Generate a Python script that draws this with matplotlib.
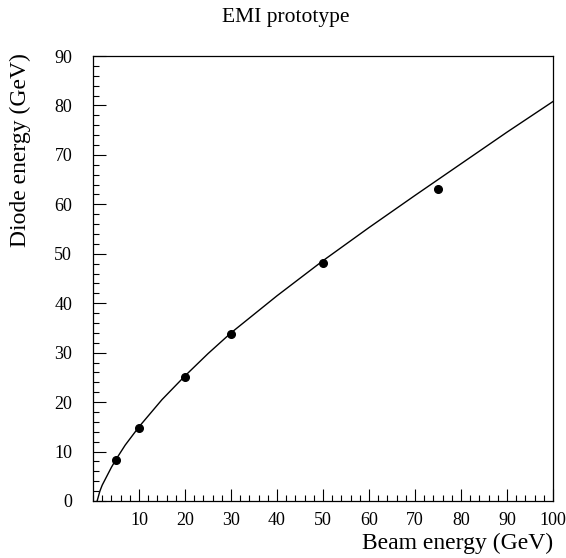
import matplotlib
matplotlib.use('Agg')
import matplotlib.pyplot as plt
from matplotlib.ticker import MultipleLocator

# measured points
beam_energy = [5, 10, 20, 30, 50, 75]
diode_energy = [8.3, 14.8, 25.0, 33.8, 48.2, 63.2]

# fitted curve
curve_x = [0.9, 1.5, 2, 3, 4, 5, 7, 10, 15, 20, 25, 30, 40, 50, 60, 70, 80, 90, 100]
curve_y = [0.0, 2.0, 3.2, 5.0, 6.8, 8.4, 11.3, 15.0, 20.5, 25.3, 29.8, 34.0,
           41.5, 48.6, 55.3, 61.8, 68.2, 74.6, 80.8]

x_ticks = [10, 20, 30, 40, 50, 60, 70, 80, 90, 100]
y_ticks = [0, 10, 20, 30, 40, 50, 60, 70, 80, 90]

plt.rcParams['font.family'] = ['Liberation Serif', 'DejaVu Serif']

fig = plt.figure(figsize=(5.66, 5.58), dpi=100)
ax = fig.add_axes([0.1643, 0.1022, 0.977 - 0.1643, 0.8996 - 0.1022])

ax.plot(curve_x, curve_y, color='black', linewidth=1.0)
ax.plot(beam_energy, diode_energy, 'o', color='black', markersize=5.5)

ax.set_xlim(0, 100)
ax.set_ylim(0, 90)
ax.set_xticks(x_ticks)
ax.set_yticks(y_ticks)
ax.xaxis.set_minor_locator(MultipleLocator(2))
ax.yaxis.set_minor_locator(MultipleLocator(2))
ax.tick_params(which='both', direction='in', top=False, right=False,
               labelsize=13, width=0.8, colors='black')
ax.tick_params(which='major', length=9)
ax.tick_params(which='minor', length=4.5)
ax.tick_params(axis='x', pad=8)
ax.tick_params(axis='y', pad=15)
for s in ax.spines.values():
    s.set_linewidth(0.9)

fig.text(0.504, 0.968, 'EMI prototype', ha='center', va='center', fontsize=15.5)
fig.text(0.977, 0.027, 'Beam energy (GeV)', ha='right', va='center', fontsize=17)
fig.text(0.036, 0.905, 'Diode energy (GeV)', ha='center', va='top',
         rotation=90, fontsize=17)

fig.savefig('out.png', dpi=100)
